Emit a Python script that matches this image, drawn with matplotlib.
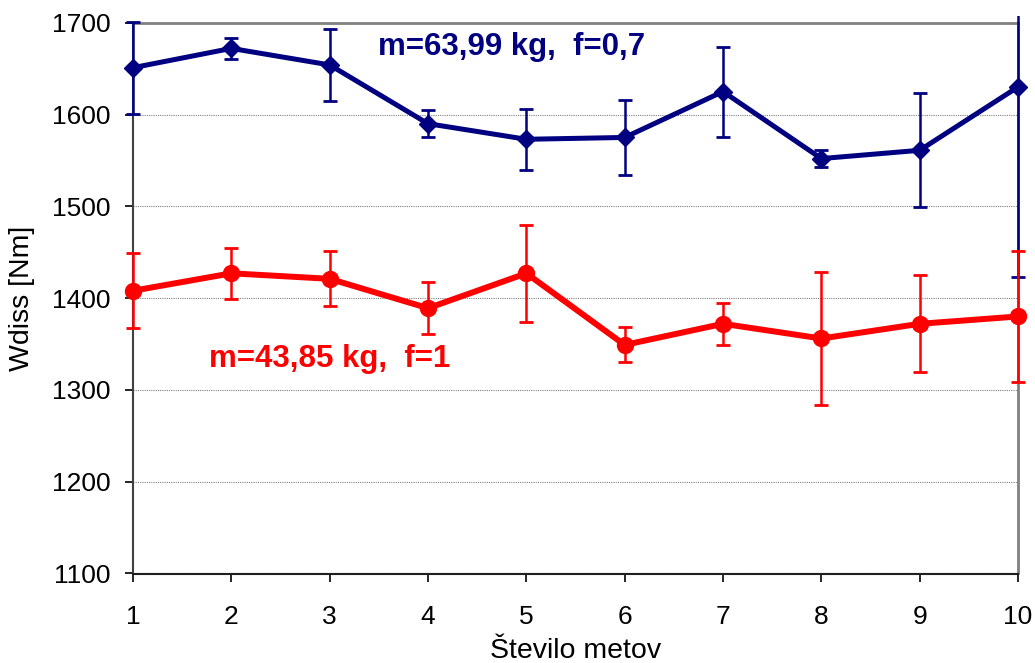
import matplotlib
matplotlib.use("Agg")
import matplotlib.pyplot as plt
from matplotlib.transforms import Bbox

plt.rcParams['font.family'] = ['Liberation Sans', 'DejaVu Sans']

# number of throws
throws = [1, 2, 3, 4, 5, 6, 7, 8, 9, 10]

# m=63,99 kg, f=0,7
heavy_w = [1651, 1672, 1654, 1590, 1573, 1575, 1625, 1552, 1561, 1630]
heavy_err = [50, 11, 39, 15, 33, 41, 49, 9, 62, 207]

# m=43,85 kg, f=1
light_w = [1408, 1427, 1421, 1389, 1427, 1349, 1372, 1356, 1372, 1380]
light_err = [41, 28, 30, 28, 53, 19, 23, 72, 53, 71]

navy = '#000080'
red = '#FF0000'

fig = plt.figure(figsize=(10.35, 6.63), dpi=100)
ax = fig.add_axes([133 / 1035, 1 - 573.5 / 663, (1018 - 133) / 1035, (573.5 - 22.7) / 663])

blue = ax.errorbar(throws, heavy_w, yerr=heavy_err, color=navy, lw=3.6,
                   marker='D', ms=9, elinewidth=1.8, capsize=5, capthick=2,
                   clip_on=False, zorder=3)
redc = ax.errorbar(throws, light_w, yerr=light_err, color=red, lw=4.3,
                   marker='o', ms=11.5, elinewidth=1.8, capsize=5, capthick=2,
                   clip_on=False, zorder=4)

# clip slightly above the plot area, like the original
clip = Bbox.from_extents(0, 0, 1035, 663 - 16)
for cont in (blue, redc):
    for art in list(cont.lines[1]) + list(cont.lines[2]):
        art.set_clip_on(True)
        art.set_clip_box(clip)

ax.set_xlim(1, 10)
ax.set_ylim(1100, 1700)
ax.set_xticks(throws)
ax.set_yticks(range(1100, 1701, 100))
ax.yaxis.grid(True, color='#808080', linestyle=(0, (1, 1)), lw=0.8)
ax.set_axisbelow(True)

ax.spines['left'].set_color('#404040')
ax.spines['bottom'].set_color('#202020')
ax.spines['top'].set_color('#808080')
ax.spines['right'].set_color('#808080')
for s in ax.spines.values():
    s.set_linewidth(1.5)
ax.spines['top'].set_linewidth(2)
ax.spines['right'].set_linewidth(2)

ax.tick_params(axis='both', direction='out', length=6, width=1.2,
               labelsize=19, colors='#000000')
ax.tick_params(axis='y', pad=10)
ax.tick_params(axis='x', pad=17)

ax.set_xlabel('Število metov', fontsize=20.5, labelpad=6)
ax.set_ylabel('Wdiss [Nm]', fontsize=20.5, labelpad=12)

ax.text(3.49, 1665, 'm=63,99 kg,  f=0,7', color=navy, fontsize=22.5,
        fontweight='bold', va='baseline')
ax.text(1.77, 1325, 'm=43,85 kg,  f=1', color=red, fontsize=22.5,
        fontweight='bold', va='baseline')

fig.savefig('out.png', dpi=100)
